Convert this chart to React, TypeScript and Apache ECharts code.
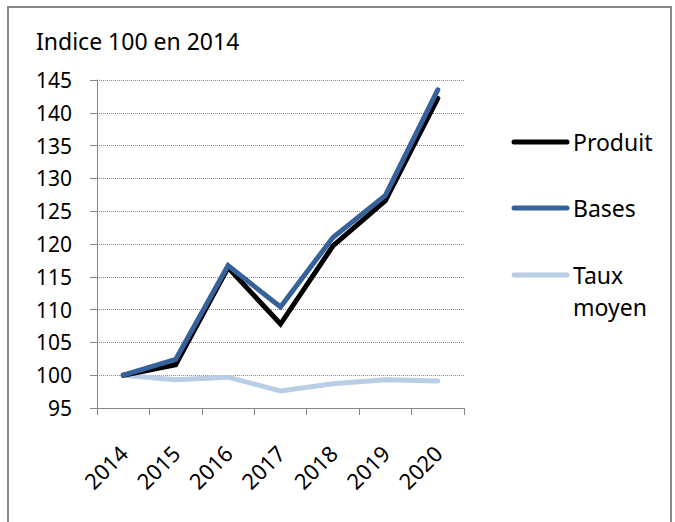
import React, { useEffect, useRef } from "react";
import * as echarts from "echarts";

const years = ["2014", "2015", "2016", "2017", "2018", "2019", "2020"];
const produit = [100, 101.6, 116.4, 107.8, 119.7, 126.6, 142.2];
const bases = [100, 102.4, 116.7, 110.4, 121.0, 127.4, 143.5];
const tauxMoyen = [100, 99.3, 99.7, 97.6, 98.7, 99.3, 99.1];
const seriesNames = ["Produit", "Bases", "Taux moyen"];
const legendLabels = [["Produit"], ["Bases"], ["Taux", "moyen"]];
const colors = ["#000000", "#36619A", "#B9CDE5"];

const FONT = "'Noto Sans', sans-serif";

export default function App() {
  const ref = useRef<HTMLDivElement>(null);
  useEffect(() => {
    if (!ref.current) return;
    const chart = echarts.init(ref.current, null, { renderer: "svg" });
    const values = [produit, bases, tauxMoyen];
    const legendY = [142, 208, 275];
    const legendGraphics: any[] = [];
    legendLabels.forEach((lines, i) => {
      legendGraphics.push({
        type: "line",
        shape: { x1: 514, y1: legendY[i], x2: 567, y2: legendY[i] },
        style: { stroke: colors[i], lineWidth: 5, lineCap: "round" },
        silent: true,
      });
      lines.forEach((t, j) => {
        legendGraphics.push({
          type: "text",
          x: 573,
          y: legendY[i] + j * 32,
          style: {
            text: t,
            fill: "#000",
            font: `23px ${FONT}`,
            verticalAlign: "middle",
            align: "left",
          },
          silent: true,
        });
      });
    });
    chart.setOption({
      animation: false,
      backgroundColor: "#fff",
      title: {
        text: "Indice 100 en 2014",
        left: 31,
        top: 24,
        textStyle: { fontFamily: FONT, fontSize: 23, fontWeight: "normal", color: "#000" },
      },
      grid: { left: 97, top: 80, width: 367, height: 328, containLabel: false },
      xAxis: {
        type: "category",
        data: years,
        boundaryGap: true,
        axisLine: { lineStyle: { color: "#868686", width: 1 } },
        axisTick: { show: true, length: 7, inside: false, lineStyle: { color: "#868686" } },
        axisLabel: {
          rotate: 45,
          margin: 41,
          fontFamily: FONT,
          fontSize: 22,
          color: "#000",
          interval: 0,
        },
        splitLine: { show: false },
      },
      yAxis: {
        type: "value",
        min: 95,
        max: 145,
        interval: 5,
        axisLine: { show: true, lineStyle: { color: "#868686", width: 1 } },
        axisTick: { show: true, length: 7, lineStyle: { color: "#868686" } },
        axisLabel: { margin: 25, fontFamily: FONT, fontSize: 21, color: "#000" },
        splitLine: { show: true, lineStyle: { color: "#8a8a8a", type: "dotted", width: 1 } },
      },
      series: seriesNames.map((name, i) => ({
        name,
        type: "line",
        data: values[i],
        symbol: "none",
        z: i === 2 ? 2 : 3,
        lineStyle: { color: colors[i], width: 5, cap: "round", join: "miter" },
        itemStyle: { color: colors[i] },
      })),
      graphic: [
        {
          type: "rect",
          shape: { x: 8, y: 7, width: 663, height: 540 },
          style: { fill: "none", stroke: "#898989", lineWidth: 2 },
          silent: true,
          z: 100,
        },
        ...legendGraphics,
      ],
    });
    return () => chart.dispose();
  }, []);
  return (
    <div
      ref={ref}
      style={{ position: "fixed", left: 0, top: 0, width: 675, height: 522 }}
    />
  );
}
